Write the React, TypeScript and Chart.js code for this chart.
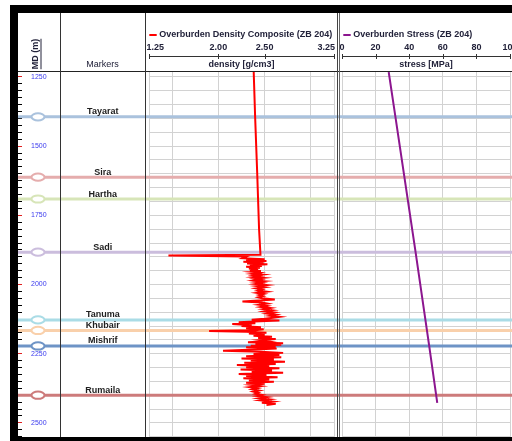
import React, { useEffect, useRef } from 'react';
import { Chart, registerables } from 'chart.js';
Chart.register(...registerables);

// ---------- data ----------
const DEPTH_MIN = 1232;
const DEPTH_MAX = 2551;
const depthLabels = [1250, 1500, 1750, 2000, 2250, 2500];

const markerNames = ['Tayarat', 'Sira', 'Hartha', 'Sadi', 'Tanuma', 'Khubair', 'Mishrif', 'Rumaila'];
const markerDepths = [1394, 1612, 1691, 1883, 2128, 2166, 2222, 2400];
const markerColors = ['#aac2dd', '#e5adad', '#d7e5b8', '#cbbddd', '#aadce6', '#f9d0ab', '#6e94c6', '#cd7b7b'];

const densityTickValues = [1.25, 2.0, 2.5, 3.25];
const densityTickLabels = ['1.25', '2.00', '2.50', '3.25'];
const densityGrid = [1.25, 1.5, 2.0, 2.5, 3.0, 3.25];

const stressTickValues = [0, 20, 40, 60, 80, 100];
const stressTickLabels = ['0', '20', '40', '60', '80', '100'];

// [depth m, density g/cm3]
const densityLog: [number, number][] = [
  [1232, 2.382], [1400, 2.398], [1600, 2.42], [1800, 2.44], [1892, 2.455],
  [1895, 1.46], [1899, 2.30], [1905, 2.26], [1909, 2.50], [1912, 2.30],
  [1915, 2.52], [1918, 2.27], [1921, 2.49], [1924, 2.31], [1927, 2.53],
  [1930, 2.34], [1933, 2.47], [1936, 2.30], [1939, 2.45], [1942, 2.33],
  [1945, 2.43], [1948, 2.34], [1951, 2.46], [1954, 2.36], [1957, 2.44],
  [1961, 2.37], [1964, 2.47], [1967, 2.39], [1970, 2.44], [1973, 2.38],
  [1976, 2.48], [1979, 2.40], [1982, 2.45], [1985, 2.39], [1988, 2.49],
  [1991, 2.41], [1994, 2.47], [1998, 2.40], [2002, 2.52], [2006, 2.42],
  [2010, 2.50], [2014, 2.41], [2018, 2.47], [2022, 2.43], [2026, 2.52],
  [2030, 2.42], [2034, 2.49], [2038, 2.44], [2042, 2.48], [2046, 2.43],
  [2050, 2.47], [2054, 2.61], [2057, 2.48], [2061, 2.26], [2065, 2.47],
  [2069, 2.53], [2073, 2.44], [2077, 2.52], [2081, 2.46], [2085, 2.56],
  [2089, 2.49], [2093, 2.58], [2097, 2.50], [2101, 2.60], [2105, 2.53],
  [2109, 2.62], [2113, 2.56], [2117, 2.66], [2121, 2.57], [2124, 2.50],
  [2127, 2.36], [2130, 2.66], [2133, 2.45], [2136, 2.22], [2140, 2.40],
  [2143, 2.15], [2147, 2.36], [2150, 2.25], [2154, 2.46], [2158, 2.30],
  [2162, 2.49], [2165, 2.40], [2168, 1.90], [2171, 2.30], [2174, 2.52],
  [2177, 2.33], [2181, 2.50], [2185, 2.38], [2189, 2.58], [2193, 2.43],
  [2197, 2.62], [2201, 2.45], [2205, 2.53], [2209, 2.32], [2212, 2.70],
  [2215, 2.40], [2218, 2.68], [2221, 2.35], [2224, 2.62], [2227, 2.30],
  [2231, 2.63], [2235, 2.40], [2239, 2.05], [2243, 2.46], [2247, 2.70],
  [2251, 2.38], [2255, 2.66], [2259, 2.30], [2263, 2.68], [2267, 2.25],
  [2271, 2.60], [2275, 2.35], [2279, 2.72], [2283, 2.28], [2287, 2.62],
  [2291, 2.20], [2295, 2.55], [2299, 2.30], [2303, 2.66], [2307, 2.24],
  [2311, 2.58], [2315, 2.36], [2319, 2.70], [2323, 2.22], [2327, 2.52],
  [2331, 2.30], [2335, 2.64], [2339, 2.27], [2343, 2.55], [2347, 2.33],
  [2351, 2.60], [2355, 2.30], [2359, 2.50], [2363, 2.36], [2367, 2.45],
  [2371, 2.34], [2375, 2.42], [2379, 2.37], [2383, 2.44], [2387, 2.38],
  [2391, 2.43], [2395, 2.40], [2399, 2.47], [2403, 2.42], [2407, 2.52],
  [2411, 2.44], [2415, 2.55], [2419, 2.46], [2423, 2.58], [2427, 2.47],
  [2431, 2.62], [2435, 2.52],
];

// [depth m, stress MPa]
const stressLog: [number, number][] = [
  [1232, 27.8], [1394, 31.8], [1883, 43.8], [2222, 51.9], [2428, 56.7],
];

// ---------- style ----------
const FONT = '"Liberation Sans", Arial, sans-serif';
const HEAD_COLOR = '#22223a';
const GRID_COLOR = '#d2d2d2';

function drawMarkerLines(chart: any) {
  const ctx = chart.ctx;
  const ys = chart.scales.y;
  ctx.save();
  markerDepths.forEach((d, i) => {
    const y = ys.getPixelForValue(d);
    ctx.strokeStyle = markerColors[i];
    ctx.lineWidth = 3;
    ctx.beginPath();
    ctx.moveTo(0, y);
    ctx.lineTo(chart.width, y);
    ctx.stroke();
  });
  ctx.restore();
}

const leftPlugin = {
  id: 'leftTrack',
  afterDraw(chart: any) {
    const ctx = chart.ctx;
    const ys = chart.scales.y;
    drawMarkerLines(chart);
    ctx.save();
    markerDepths.forEach((d, i) => {
      const y = ys.getPixelForValue(d);
      ctx.beginPath();
      ctx.ellipse(20, y, 6.5, 3.6, 0, 0, Math.PI * 2);
      ctx.fillStyle = '#ffffff';
      ctx.fill();
      ctx.lineWidth = 2;
      ctx.strokeStyle = markerColors[i];
      ctx.stroke();
      ctx.fillStyle = '#202020';
      ctx.font = `bold 9px ${FONT}`;
      ctx.textAlign = 'center';
      ctx.textBaseline = 'alphabetic';
      ctx.fillText(markerNames[i], 84.8, y - 2.5);
    });
    // header
    ctx.fillStyle = HEAD_COLOR;
    ctx.font = `9px ${FONT}`;
    ctx.textAlign = 'center';
    ctx.textBaseline = 'middle';
    ctx.fillText('Markers', 84.5, 65);
    ctx.save();
    ctx.translate(17.5, 54);
    ctx.rotate(-Math.PI / 2);
    ctx.font = `bold 9px ${FONT}`;
    ctx.fillText('MD (m)', 0, 0);
    const w = ctx.measureText('MD (m)').width;
    ctx.strokeStyle = HEAD_COLOR;
    ctx.lineWidth = 1;
    ctx.beginPath();
    ctx.moveTo(-w / 2, 5.5);
    ctx.lineTo(w / 2, 5.5);
    ctx.stroke();
    ctx.restore();
    ctx.restore();
  },
};

function makeTrackPlugin(opts: {
  id: string;
  legend: string;
  color: string;
  values: number[];
  labels: string[];
  title: string;
  edgeAlign: boolean;
}) {
  return {
    id: opts.id,
    beforeDatasetsDraw(chart: any) {
      drawMarkerLines(chart);
    },
    afterDraw(chart: any) {
      const ctx = chart.ctx;
      const xs = chart.scales.x;
      ctx.save();
      // legend
      ctx.strokeStyle = opts.color;
      ctx.lineWidth = 2;
      ctx.beginPath();
      ctx.moveTo(4.3, 35);
      ctx.lineTo(11.7, 35);
      ctx.stroke();
      ctx.fillStyle = HEAD_COLOR;
      ctx.font = `bold 9px ${FONT}`;
      ctx.textAlign = 'left';
      ctx.textBaseline = 'middle';
      ctx.fillText(opts.legend, 14.3, 35);
      // tick labels
      const n = opts.values.length;
      opts.values.forEach((v, i) => {
        const x = xs.getPixelForValue(v);
        let align = 'center';
        let xx = x;
        if (opts.edgeAlign && i === 0) { align = 'left'; xx = x - 2.5; }
        if (opts.edgeAlign && i === n - 1) { align = 'right'; xx = x + 1; }
        ctx.textAlign = align;
        ctx.fillText(opts.labels[i], xx, 48);
      });
      // axis line
      ctx.strokeStyle = '#333';
      ctx.lineWidth = 1;
      const x0 = xs.getPixelForValue(opts.values[0]);
      const x1 = xs.getPixelForValue(opts.values[n - 1]);
      ctx.beginPath();
      ctx.moveTo(x0, 56.5);
      ctx.lineTo(x1, 56.5);
      ctx.stroke();
      opts.values.forEach((v) => {
        const x = Math.round(xs.getPixelForValue(v)) + 0.5;
        ctx.beginPath();
        ctx.moveTo(x, 54);
        ctx.lineTo(x, 59);
        ctx.stroke();
      });
      // title
      ctx.textAlign = 'center';
      ctx.fillText(opts.title, (xs.left + xs.right) / 2, 65);
      ctx.restore();
    },
  };
}

function depthScale(extra: any) {
  return {
    type: 'linear',
    reverse: true,
    min: DEPTH_MIN,
    max: DEPTH_MAX,
    ...extra,
  };
}

export default function App() {
  const leftRef = useRef<HTMLCanvasElement>(null);
  const denRef = useRef<HTMLCanvasElement>(null);
  const strRef = useRef<HTMLCanvasElement>(null);

  useEffect(() => {
    const left = new Chart(leftRef.current as HTMLCanvasElement, {
      type: 'scatter',
      data: { datasets: [] },
      options: {
        responsive: false,
        animation: false,
        events: [],
        layout: { padding: { top: 72, bottom: 4, left: 0, right: 0 } },
        plugins: { legend: { display: false }, tooltip: { enabled: false } },
        scales: {
          x: { type: 'linear', display: false, min: 0, max: 1 },
          y: depthScale({
            position: 'left',
            afterFit: (s: any) => {
              s.width = 4;
              s.paddingTop = 0;
              s.paddingBottom = 0;
            },
            border: { display: false },
            grid: {
              drawOnChartArea: false,
              drawTicks: true,
              tickLength: 4,
              tickColor: (c: any) => (c.tick && depthLabels.includes(c.tick.value) ? '#e02020' : '#000'),
            },
            ticks: {
              stepSize: 25,
              includeBounds: false,
              autoSkip: false,
              mirror: true,
              padding: 9,
              color: '#3a3aee',
              font: { family: FONT, size: 7 },
              callback: (v: any) => (depthLabels.includes(v) ? String(v) : ''),
            },
          }),
        },
      } as any,
      plugins: [leftPlugin],
    });

    const den = new Chart(denRef.current as HTMLCanvasElement, {
      type: 'scatter',
      data: {
        datasets: [
          {
            label: 'Overburden Density Composite (ZB 204)',
            data: densityLog.map(([d, v]) => ({ x: v, y: d })),
            showLine: true,
            borderColor: '#ff0000',
            borderWidth: 2,
            pointRadius: 0,
            tension: 0,
          },
        ],
      },
      options: {
        responsive: false,
        animation: false,
        events: [],
        layout: { padding: { top: 72, bottom: 4, left: 4, right: 5 } },
        plugins: { legend: { display: false }, tooltip: { enabled: false } },
        scales: {
          x: {
            type: 'linear',
            position: 'top',
            min: 1.25,
            max: 3.25,
            afterBuildTicks: (s: any) => { s.ticks = densityGrid.map((v) => ({ value: v })); },
            afterFit: (s: any) => { s.height = 0; },
            border: { display: false },
            grid: { color: GRID_COLOR, drawTicks: false },
            ticks: { display: false },
          },
          y: depthScale({
            afterFit: (s: any) => { s.width = 0; },
            border: { display: false },
            grid: { color: GRID_COLOR, drawTicks: false },
            ticks: { display: false, stepSize: 50, includeBounds: false, autoSkip: false },
          }),
        },
      } as any,
      plugins: [
        makeTrackPlugin({
          id: 'denHeader',
          legend: 'Overburden Density Composite (ZB 204)',
          color: '#ff0000',
          values: densityTickValues,
          labels: densityTickLabels,
          title: 'density [g/cm3]',
          edgeAlign: true,
        }),
      ],
    });

    const str = new Chart(strRef.current as HTMLCanvasElement, {
      type: 'scatter',
      data: {
        datasets: [
          {
            label: 'Overburden Stress (ZB 204)',
            data: stressLog.map(([d, v]) => ({ x: v, y: d })),
            showLine: true,
            borderColor: '#8c168f',
            borderWidth: 2,
            pointRadius: 0,
            tension: 0,
          },
        ],
      },
      options: {
        responsive: false,
        animation: false,
        events: [],
        layout: { padding: { top: 72, bottom: 4, left: 3, right: 5 } },
        plugins: { legend: { display: false }, tooltip: { enabled: false } },
        scales: {
          x: {
            type: 'linear',
            position: 'top',
            min: 0,
            max: 100,
            afterBuildTicks: (s: any) => { s.ticks = stressTickValues.map((v) => ({ value: v })); },
            afterFit: (s: any) => { s.height = 0; },
            border: { display: false },
            grid: { color: GRID_COLOR, drawTicks: false },
            ticks: { display: false },
          },
          y: depthScale({
            afterFit: (s: any) => { s.width = 0; },
            border: { display: false },
            grid: { color: GRID_COLOR, drawTicks: false },
            ticks: { display: false, stepSize: 50, includeBounds: false, autoSkip: false },
          }),
        },
      } as any,
      plugins: [
        makeTrackPlugin({
          id: 'strHeader',
          legend: 'Overburden Stress (ZB 204)',
          color: '#8c168f',
          values: stressTickValues,
          labels: stressTickLabels,
          title: 'stress [MPa]',
          edgeAlign: false,
        }),
      ],
    });

    return () => {
      left.destroy();
      den.destroy();
      str.destroy();
    };
  }, []);

  const abs = (l: number, t: number, w: number, h: number, bg: string): React.CSSProperties => ({
    position: 'absolute', left: l, top: t, width: w, height: h, background: bg,
  });

  return (
    <div style={{ position: 'fixed', left: 0, top: 0, width: 512, height: 441, background: '#fff', overflow: 'hidden' }}>
      <canvas ref={leftRef} width={127} height={441} style={{ position: 'absolute', left: 18, top: 0, width: 127, height: 441 }} />
      <canvas ref={denRef} width={194} height={441} style={{ position: 'absolute', left: 145, top: 0, width: 194, height: 441 }} />
      <canvas ref={strRef} width={176} height={441} style={{ position: 'absolute', left: 339, top: 0, width: 176, height: 441 }} />
      {/* frame */}
      <div style={abs(10, 5, 502, 8, '#000')} />
      <div style={abs(10, 5, 8, 436, '#000')} />
      <div style={abs(10, 437, 502, 4, '#000')} />
      <div style={abs(18, 71, 494, 1, '#222')} />
      <div style={abs(60, 13, 1, 424, '#333')} />
      <div style={abs(145, 13, 1, 424, '#333')} />
      <div style={abs(337, 13, 1, 424, '#444')} />
      <div style={abs(339, 13, 1, 424, '#666')} />
    </div>
  );
}
